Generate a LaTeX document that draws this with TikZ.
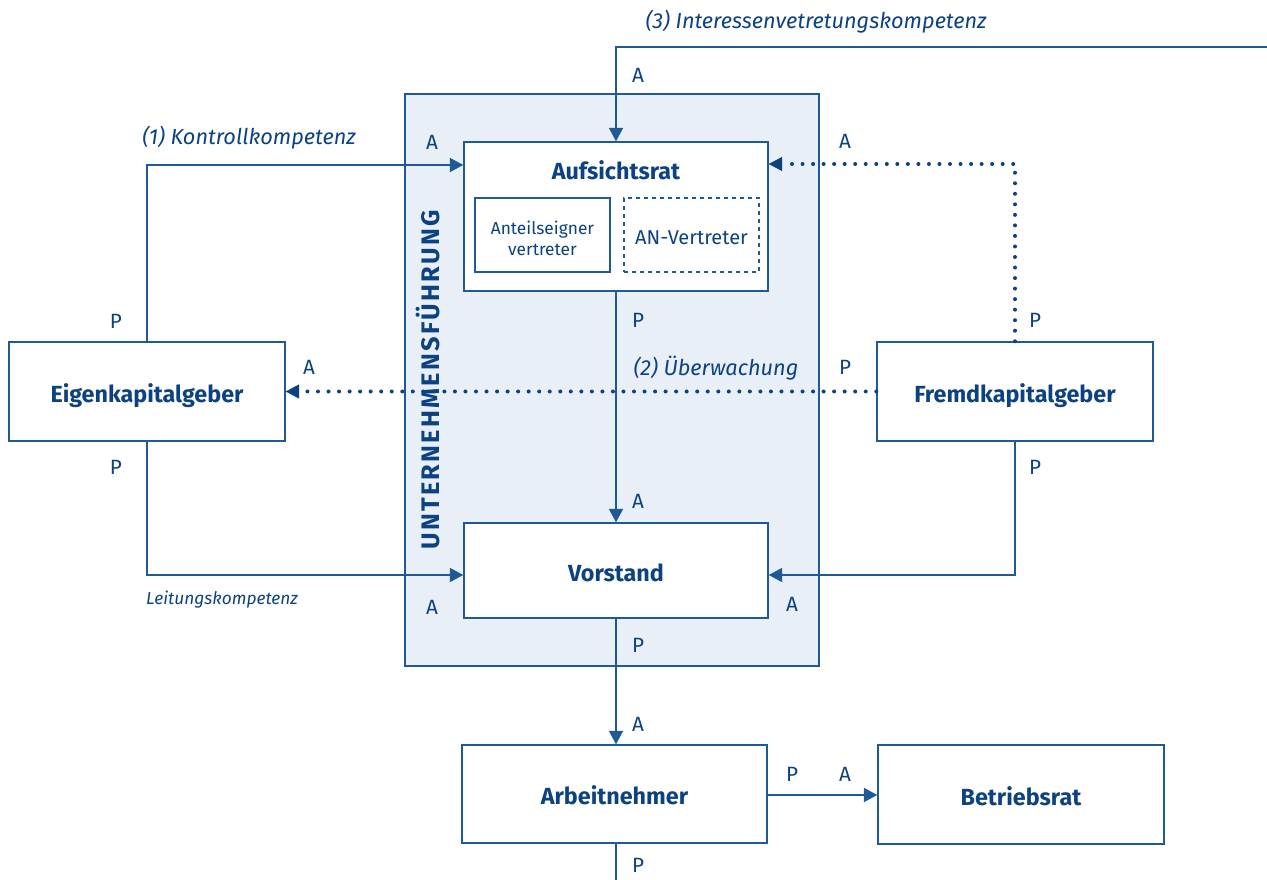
\documentclass[tikz,border=0pt]{standalone}
\usepackage{fontspec}
\setmainfont{Fira Sans}
\usetikzlibrary{arrows.meta}
\definecolor{dblue}{HTML}{0C4282}
\definecolor{lblue}{HTML}{1F5A97}
\definecolor{panelfill}{HTML}{E8EFF7}
\tikzset{
  box/.style={draw=lblue, line width=1.1pt, fill=white, inner sep=0pt,
    text=dblue, font=\bfseries\fontsize{17.5}{21}\selectfont,
    text height=16pt, text depth=0pt},
  subbox/.style={draw=lblue, line width=1.1pt, fill=white, inner sep=0pt,
    text=dblue, align=center},
  conn/.style={draw=lblue, line width=1.1pt,
    -{Triangle[length=10pt,width=10.5pt]}},
  plainline/.style={draw=lblue, line width=1.1pt},
  dotline/.style={draw=dblue, line width=3pt, line cap=round,
    dash pattern=on 0pt off 7.9pt,
    -{Triangle[length=10pt,width=10.5pt,line width=0.4pt,fill=dblue]}},
  pa/.style={anchor=base, text=dblue, inner sep=0pt, font=\fontsize{15.5}{18}\selectfont},
  itlabel/.style={anchor=base, text=dblue, inner sep=0pt, font=\itshape\fontsize{16.3}{19}\selectfont},
}
\begin{document}
\begin{tikzpicture}[x=0.75pt, y=-0.75pt]
\useasboundingbox (0,0) rectangle (1267,880);

% company management panel
\node[draw=lblue, line width=1.1pt, fill=panelfill, minimum width=310.5pt,
  minimum height=429pt, inner sep=0pt] (panel) at (612,380) {};
\node[rotate=90, text=dblue, inner sep=0pt,
  font=\bfseries\fontsize{19}{22}\selectfont\addfontfeature{LetterSpace=9}]
  (panellabel) at (428,380) {UNTERNEHMENSFÜHRUNG};

% boxes
\node[box, minimum width=228pt, minimum height=111.75pt] (ar) at (616,216.5) {};
\node[text=dblue, inner sep=0pt, anchor=base, font=\bfseries\fontsize{17.5}{21}\selectfont]
  (artitle) at (616,180) {Aufsichtsrat};
\node[subbox, minimum width=101.25pt, minimum height=55.5pt,
  font=\fontsize{13}{15.5}\selectfont] (aev) at (542.5,235) {};
\node[text=dblue, align=center, inner sep=0pt, font=\fontsize{13}{15.5}\selectfont]
  (aevtext) at (542.5,238.5) {Anteilseigner\\vertreter};
\node[subbox, dashed, minimum width=101.25pt, minimum height=55.5pt] (anv) at (691.5,235) {};
\node[text=dblue, inner sep=0pt, anchor=base, font=\fontsize{15}{18}\selectfont]
  (anvtext) at (691.5,245) {AN-Vertreter};

\node[box, minimum width=228pt, minimum height=71.25pt] (vs) at (616,570.5) {Vorstand};
\node[box, minimum width=207pt, minimum height=74.25pt] (ek) at (147,391.5) {Eigenkapitalgeber};
\node[box, minimum width=207pt, minimum height=74.25pt] (fk) at (1015,391.5) {Fremdkapitalgeber};
\node[box, minimum width=228.75pt, minimum height=73.5pt] (an) at (614.5,794) {Arbeitnehmer};
\node[box, minimum width=214.5pt, minimum height=74.25pt] (br) at (1021,794.5) {Betriebsrat};

% connectors
\coordinate (topright) at (1267,47);
\coordinate (bottomend) at (616,880);
\draw[conn] (topright) -| (ar.north);
\draw[conn] (ek.north) |- (ar.west |- 0,165);
\draw[conn] (ek.south) |- (vs.west |- 0,575);
\draw[conn] (fk.south) |- (vs.east |- 0,575);
\draw[conn] (ar.south) -- (vs.north);
\draw[conn] (vs.south) -- (vs.south |- an.north);
\draw[conn] (an.east |- 0,795) -- (br.west |- 0,795);
\draw[plainline] (an.south -| bottomend) -- (bottomend);
\draw[dotline] (fk.north) |- (ar.east |- 0,164);
\draw[dotline] (fk.west) -- (ek.east);

% P/A labels
\node[pa] (la3) at (638,82.5) {A};
\node[pa] (la1) at (432,149.5) {A};
\node[pa] (lafk) at (845,148.5) {A};
\node[pa] (lp1) at (116,328.5) {P};
\node[pa] (lp2) at (116,474.5) {P};
\node[pa] (laek) at (309,374.5) {A};
\node[pa] (lpfk) at (845,374.5) {P};
\node[pa] (lpfk1) at (1035,327.5) {P};
\node[pa] (lpfk2) at (1035,474.5) {P};
\node[pa] (lpar) at (638,327.5) {P};
\node[pa] (lavs) at (638,508.5) {A};
\node[pa] (lavs2) at (432,614.5) {A};
\node[pa] (lavs3) at (792,611.5) {A};
\node[pa] (lpvs) at (638,652.5) {P};
\node[pa] (laan) at (638,731.5) {A};
\node[pa] (lpan) at (792,781.5) {P};
\node[pa] (labr) at (845,781.5) {A};
\node[pa] (lpan2) at (638,872.5) {P};

% competence labels
\node[itlabel] (k3) at (816,29) {(3) Interessenvetretungskompetenz};
\node[itlabel] (k1) at (249,145) {(1) Kontrollkompetenz};
\node[itlabel] (k2) at (716,376) {(2) Überwachung};
\node[itlabel, font=\itshape\fontsize{13}{16}\selectfont] (k4) at (222,604) {Leitungskompetenz};
\end{tikzpicture}
\end{document}
